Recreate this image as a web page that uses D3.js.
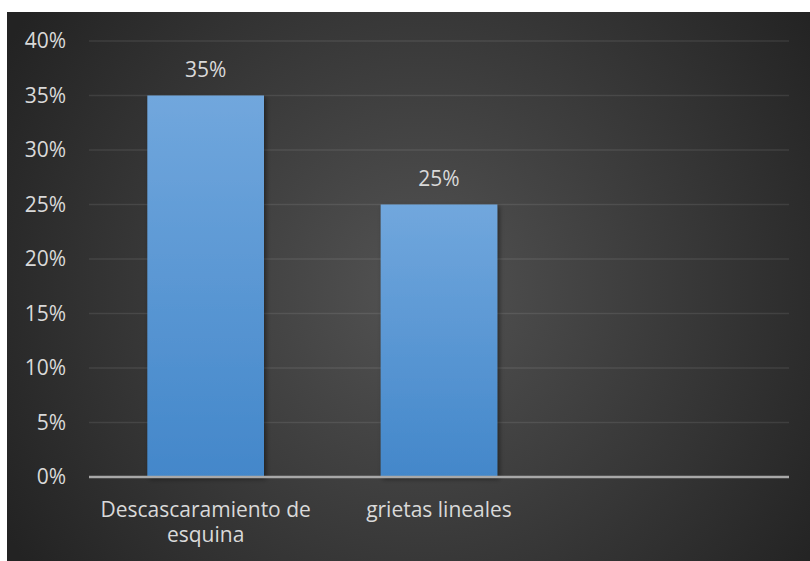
<!DOCTYPE html>
<html><head><meta charset="utf-8">
<script src="https://cdn.jsdelivr.net/npm/d3@7"></script>
<style>html,body{margin:0;padding:0;background:#fff;}svg{display:block;}</style>
</head><body>
<script>
const categories = ["Descascaramiento de esquina", "grietas lineales", ""];
const values = [0.35, 0.25, null];
const tickValues = [0, 0.05, 0.10, 0.15, 0.20, 0.25, 0.30, 0.35, 0.40];

const W = 810, H = 561;
const svg = d3.select("body").append("svg").attr("width", W).attr("height", H);
const defs = svg.append("defs");
const rg = defs.append("radialGradient").attr("id","bg").attr("gradientUnits","userSpaceOnUse")
  .attr("cx", 420).attr("cy", 290).attr("r", 480);
rg.append("stop").attr("offset","0%").attr("stop-color","#535353");
rg.append("stop").attr("offset","100%").attr("stop-color","#232323");
const bg = defs.append("linearGradient").attr("id","bar").attr("x1",0).attr("y1",0).attr("x2",0).attr("y2",1);
bg.append("stop").attr("offset","0%").attr("stop-color","#71a7dd");
bg.append("stop").attr("offset","100%").attr("stop-color","#4387ca");
const f = defs.append("filter").attr("id","sh").attr("x","-10%").attr("y","-10%").attr("width","130%").attr("height","130%");
f.append("feDropShadow").attr("dx",2).attr("dy",2).attr("stdDeviation",2.5).attr("flood-color","#000").attr("flood-opacity",0.45);

svg.append("rect").attr("x",7).attr("y",12).attr("width",W-7).attr("height",H-12).attr("fill","url(#bg)");

const m = {l:89, r:789, t:41, b:477};
const x = d3.scaleBand().domain(categories.map((c,i)=>i)).range([m.l,m.r]).paddingInner(0.5).paddingOuter(0.25);
const y = d3.scaleLinear().domain([0,0.40]).range([m.b,m.t]);
const font = "'Open Sans', sans-serif";
const txt = "#d9d9d9";
const fs = "21px";

// gridlines
svg.append("g").selectAll("line").data(tickValues.filter(v=>v>0)).join("line")
  .attr("x1",m.l).attr("x2",m.r).attr("y1",d=>y(d)).attr("y2",d=>y(d))
  .attr("stroke","rgba(255,255,255,0.09)").attr("stroke-width",1.5);

// y axis labels
const yAxis = d3.axisLeft(y).tickValues(tickValues).tickFormat(d3.format(".0%")).tickSize(0).tickPadding(23);
const gy = svg.append("g").attr("transform",`translate(${m.l},0)`).call(yAxis);
gy.select(".domain").remove();
gy.selectAll("text").attr("fill",txt).style("font-family",font).style("font-size",fs);

// bars
svg.append("g").selectAll("rect").data(values.map((v,i)=>({v,i})).filter(d=>d.v!=null)).join("rect")
  .attr("x",d=>x(d.i)).attr("width",x.bandwidth())
  .attr("y",d=>y(d.v)).attr("height",d=>y(0)-y(d.v))
  .attr("fill","url(#bar)").attr("filter","url(#sh)");

// x axis line
svg.append("line").attr("x1",m.l).attr("x2",m.r).attr("y1",y(0)).attr("y2",y(0))
  .attr("stroke","#a8a8a8").attr("stroke-width",2.5);

// value labels
svg.append("g").selectAll("text").data(values.map((v,i)=>({v,i})).filter(d=>d.v!=null)).join("text")
  .attr("x",d=>x(d.i)+x.bandwidth()/2).attr("y",d=>y(d.v)-18.5)
  .attr("text-anchor","middle").attr("fill",txt).style("font-family",font).style("font-size",fs)
  .text(d=>d3.format(".0%")(d.v));

// category labels with wrapping
const lines = [["Descascaramiento de","esquina"],["grietas lineales"],[]];
const gx = svg.append("g");
categories.forEach((c,i)=>{
  const t = gx.append("text").attr("text-anchor","middle").attr("fill",txt)
    .style("font-family",font).style("font-size",fs);
  lines[i].forEach((ln,j)=>{
    t.append("tspan").attr("x",x(i)+x.bandwidth()/2).attr("y",517+j*25).text(ln);
  });
});
</script>
</body></html>
